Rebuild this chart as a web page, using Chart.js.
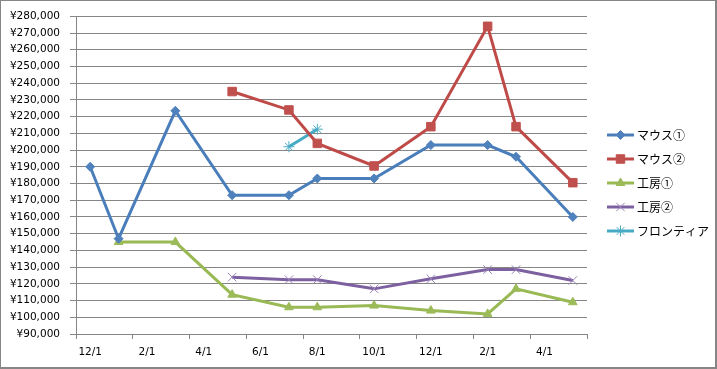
<!DOCTYPE html>
<html>
<head>
<meta charset="utf-8">
<script src="https://cdn.jsdelivr.net/npm/chart.js@4.4.1/dist/chart.umd.min.js"></script>
<style>
  body { margin: 0; background: #fff; }
</style>
</head>
<body>
<canvas id="line-chart" width="717" height="369"></canvas>
<script>
// 月ごとのデータ (年/月)
const months = ['2012/12', '2013/1', '2013/3', '2013/5', '2013/7', '2013/8', '2013/10', '2013/12', '2014/2', '2014/3', '2014/5'];
const xTickLabels = ['12/1', '2/1', '4/1', '6/1', '8/1', '10/1', '12/1', '2/1', '4/1'];

const mouse1 = [190000, 147000, 223500, 173000, 173000, 183000, 183000, 203000, 203000, 196000, 160000];
const mouse2 = [null, null, null, 235000, 224000, 204000, 190500, 214000, 274000, 214000, 180500];
const kobo1 = [null, 145000, 145000, 113500, 106000, 106000, 107000, 104000, 102000, 117000, 109000];
const kobo2 = [null, null, null, 124000, 122500, 122500, 117000, 123000, 128500, 128500, 122000];
const frontier = [null, null, null, null, 202000, 212500, null, null, null, null, null];

const yMin = 90000;
const yMax = 280000;
const yStep = 10000;

// 2012/12 を 0 とした月番号
function monthIndex(s) {
  const p = s.split('/');
  return (Number(p[0]) - 2012) * 12 + Number(p[1]) - 12;
}
function toPoints(values) {
  const pts = [];
  values.forEach(function(v, i) {
    if (v !== null) pts.push({ x: monthIndex(months[i]), y: v });
  });
  return pts;
}

const gridColor = '#868686';
const tickFont = { family: 'DejaVu Sans', size: 10.5 };

// 凡例 (線+マーカー)
const legendPlugin = {
  id: 'excelLegend',
  afterDraw(chart) {
    const ctx = chart.ctx;
    ctx.save();
    chart.data.datasets.forEach(function(ds, i) {
      const y = 135 + i * 24;
      ctx.strokeStyle = ds.borderColor;
      ctx.lineWidth = 3;
      ctx.beginPath();
      ctx.moveTo(607, y);
      ctx.lineTo(634, y);
      ctx.stroke();
      ctx.fillStyle = ds.pointBackgroundColor;
      ctx.strokeStyle = ds.pointBorderColor;
      ctx.lineWidth = ds.pointBorderWidth;
      Chart.helpers.drawPoint(ctx, {
        pointStyle: ds.pointStyle,
        radius: ds.pointRadius,
        rotation: 0,
        borderWidth: ds.pointBorderWidth
      }, 620.5, y);
      ctx.fillStyle = '#000';
      ctx.font = '12px "Noto Sans CJK JP"';
      ctx.textBaseline = 'middle';
      ctx.textAlign = 'left';
      ctx.fillText(ds.label, 637, y);
    });
    ctx.restore();
  }
};

// 外枠
const framePlugin = {
  id: 'frame',
  beforeDraw(chart) {
    const ctx = chart.ctx;
    ctx.save();
    ctx.fillStyle = '#fff';
    ctx.fillRect(0, 0, chart.width, chart.height);
    ctx.strokeStyle = gridColor;
    ctx.lineWidth = 1;
    ctx.strokeRect(0.5, 0.5, chart.width - 1.5, chart.height - 1.5);
    ctx.lineWidth = 2;
    ctx.beginPath();
    ctx.moveTo(chart.width - 1, 0);
    ctx.lineTo(chart.width - 1, chart.height - 1);
    ctx.lineTo(0, chart.height - 1);
    ctx.stroke();
    ctx.restore();
  }
};

new Chart(document.getElementById('line-chart'), {
  type: 'line',
  data: {
    datasets: [
      {
        label: 'マウス①',
        data: toPoints(mouse1),
        borderColor: '#4A7EBB',
        borderWidth: 3,
        pointStyle: 'rectRot',
        pointRadius: 4.5,
        pointBackgroundColor: '#4F81BD',
        pointBorderColor: '#4F81BD',
        pointBorderWidth: 1
      },
      {
        label: 'マウス②',
        data: toPoints(mouse2),
        borderColor: '#BE4B48',
        borderWidth: 3,
        pointStyle: 'rect',
        pointRadius: 6,
        pointBackgroundColor: '#C0504D',
        pointBorderColor: '#C0504D',
        pointBorderWidth: 1
      },
      {
        label: '工房①',
        data: toPoints(kobo1),
        borderColor: '#98B954',
        borderWidth: 3,
        pointStyle: 'triangle',
        pointRadius: 5,
        pointBackgroundColor: '#9BBB59',
        pointBorderColor: '#9BBB59',
        pointBorderWidth: 1
      },
      {
        label: '工房②',
        data: toPoints(kobo2),
        borderColor: '#7D60A0',
        borderWidth: 3,
        pointStyle: 'crossRot',
        pointRadius: 6,
        pointBackgroundColor: '#8064A2',
        pointBorderColor: '#9A84B8',
        pointBorderWidth: 1
      },
      {
        label: 'フロンティア',
        data: toPoints(frontier),
        borderColor: '#46AAC5',
        borderWidth: 3,
        pointStyle: 'star',
        pointRadius: 5.5,
        pointBackgroundColor: '#4BACC6',
        pointBorderColor: '#4BACC6',
        pointBorderWidth: 1
      }
    ]
  },
  options: {
    responsive: false,
    animation: false,
    devicePixelRatio: 1,
    layout: { padding: { left: 0, top: 15, right: 130, bottom: 0 } },
    plugins: {
      legend: { display: false },
      tooltip: { enabled: false }
    },
    elements: { line: { tension: 0 } },
    scales: {
      x: {
        type: 'linear',
        min: -0.5,
        max: 17.5,
        afterBuildTicks(scale) {
          const t = [];
          for (let v = -0.5; v <= 17.5; v += 1) {
            if (Math.round(v + 0.5) % 2 === 0) t.push({ value: v });
            if (v + 0.5 < 17 && Math.round(v + 0.5) % 2 === 0) t.push({ value: v + 0.5 });
          }
          scale.ticks = t;
        },
        afterFit(scale) { scale.height = 35; },
        grid: {
          drawOnChartArea: false,
          tickLength: 5,
          tickColor: function(c) {
            return (c.tick && c.tick.value % 1 !== 0) ? gridColor : 'rgba(0,0,0,0)';
          }
        },
        border: { color: gridColor },
        ticks: {
          autoSkip: false,
          maxRotation: 0,
          padding: 7,
          color: '#000',
          font: tickFont,
          callback: function(v) {
            if (v % 1 !== 0) return '';
            return xTickLabels[v / 2] || '';
          }
        }
      },
      y: {
        min: yMin,
        max: yMax,
        afterFit(scale) { scale.width = 76; },
        grid: { color: gridColor, tickLength: 6 },
        border: { color: gridColor },
        ticks: {
          stepSize: yStep,
          padding: 10,
          color: '#000',
          font: tickFont,
          callback: function(v) { return '¥' + v.toLocaleString('en-US'); }
        }
      }
    }
  },
  plugins: [framePlugin, legendPlugin]
});
</script>
</body>
</html>
